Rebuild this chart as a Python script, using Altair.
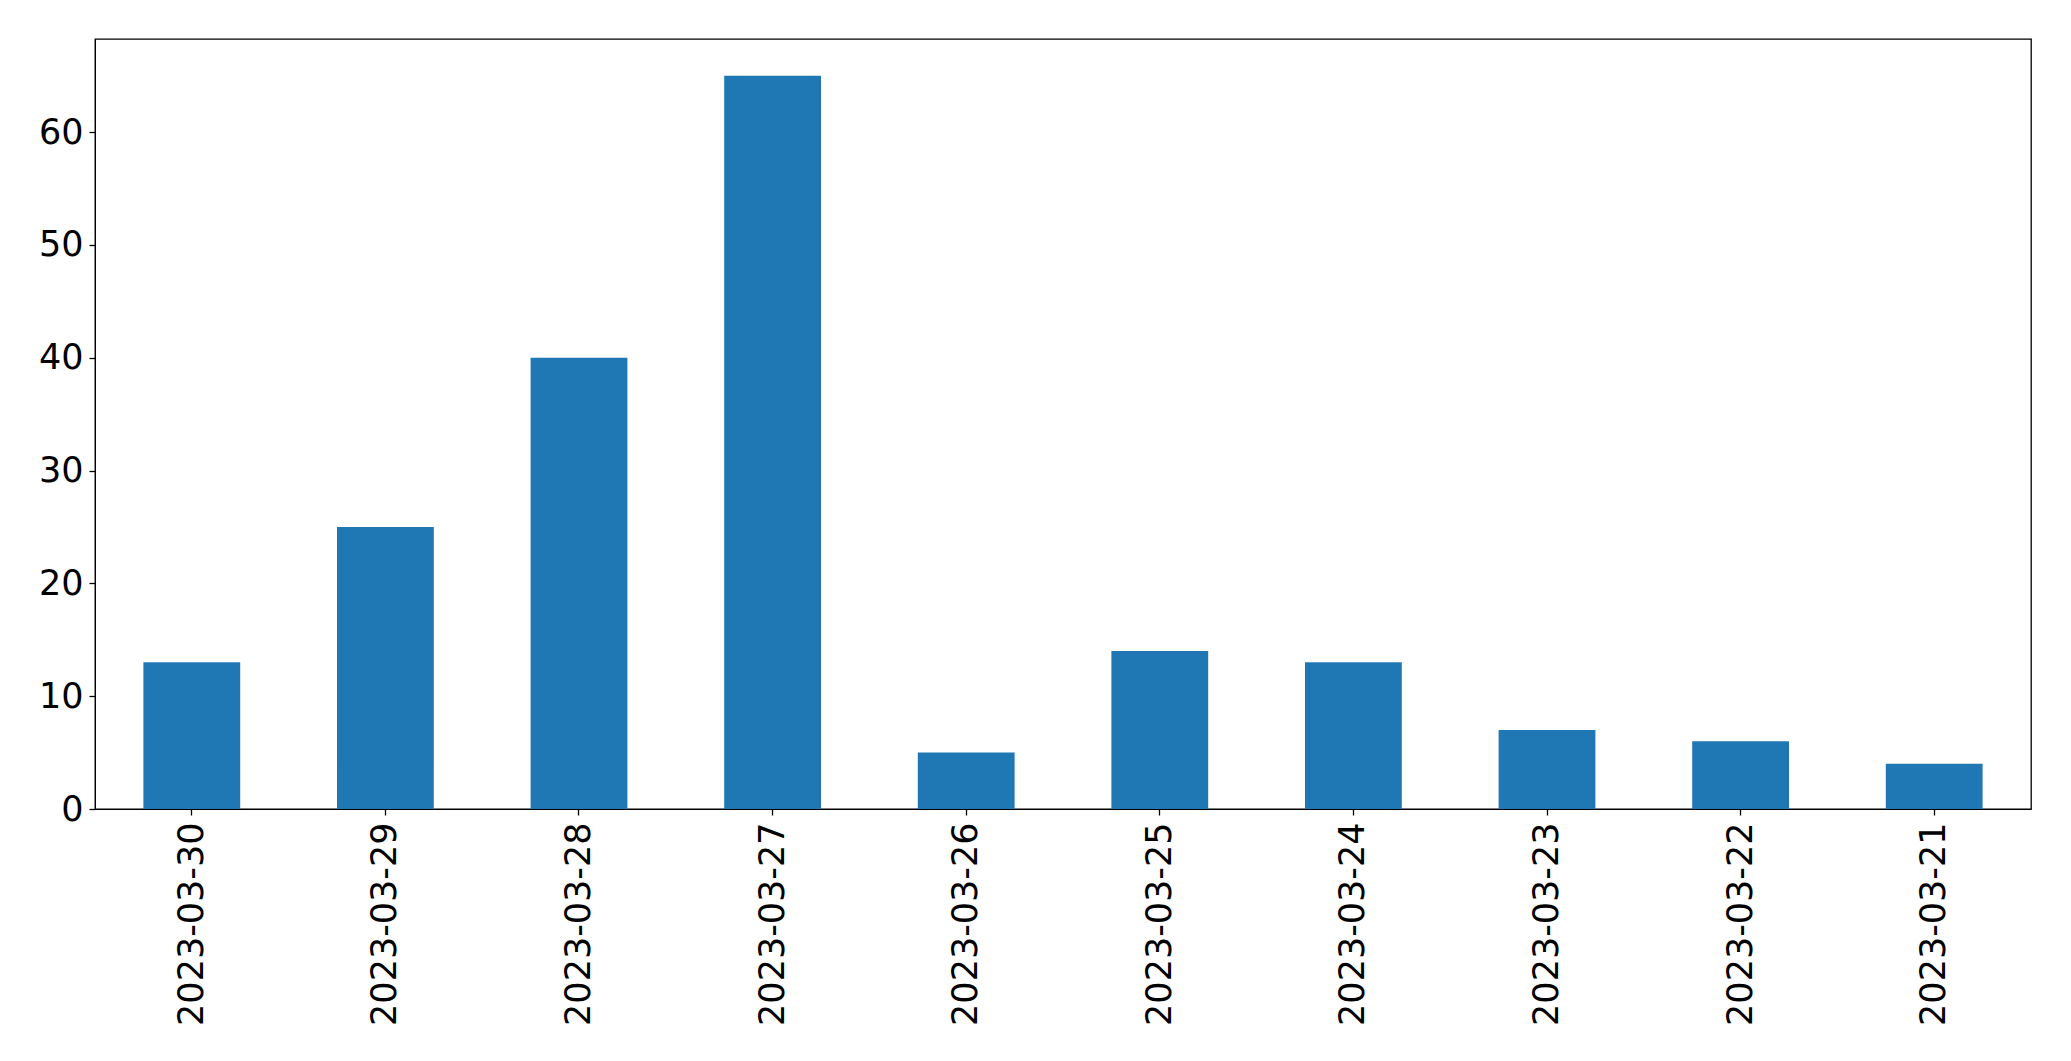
import altair as alt
import pandas as pd

dates = ["2023-03-30", "2023-03-29", "2023-03-28", "2023-03-27", "2023-03-26",
         "2023-03-25", "2023-03-24", "2023-03-23", "2023-03-22", "2023-03-21"]
counts = [13, 25, 40, 65, 5, 14, 13, 7, 6, 4]
y_ticks = [0, 10, 20, 30, 40, 50, 60]

df = pd.DataFrame({"date": dates, "count": counts})

chart = alt.Chart(df).mark_bar(color="#1f77b4").encode(
    x=alt.X("date:N", sort=dates, title=None,
            scale=alt.Scale(paddingInner=0.5, paddingOuter=0.25),
            axis=alt.Axis(labelAngle=270, labelFontSize=35, labelFont="DejaVu Sans",
                          labelColor="black", tickColor="black", domainColor="black",
                          tickSize=6, labelPadding=7, tickWidth=1.3, labelLimit=0)),
    y=alt.Y("count:Q", title=None,
            scale=alt.Scale(domain=[0, 68.25], nice=False, zero=True),
            axis=alt.Axis(values=y_ticks, grid=False, labelFontSize=35, labelFont="DejaVu Sans",
                          labelColor="black", tickColor="black", domainColor="black",
                          tickSize=6, labelPadding=6, tickWidth=1.3, labelLimit=0)),
).properties(
    width=1936, height=770,
    background="white",
    autosize=alt.AutoSizeParams(type="none"),
    padding={"left": 87, "top": 31, "right": 32, "bottom": 244},
).configure_view(stroke="black", strokeWidth=1.3)

chart.save("out.html", embed_options={"renderer": "svg", "actions": False})
